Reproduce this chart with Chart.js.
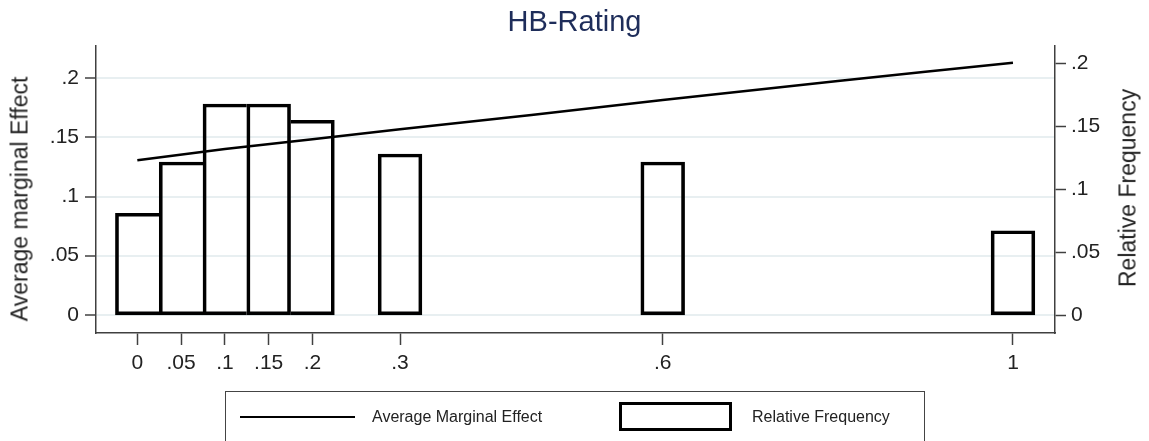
<!DOCTYPE html>
<html>
<head>
<meta charset="utf-8">
<script src="https://cdn.jsdelivr.net/npm/chart.js@4/dist/chart.umd.min.js"></script>
<style>
  html, body { margin: 0; padding: 0; background: #fff; }
  #wrap { position: relative; width: 1149px; height: 441px; overflow: hidden; font-family: "Liberation Sans", Arial, sans-serif; }
  canvas { position: absolute; left: 0; top: 0; }
  .ytitle { position: absolute; white-space: nowrap; font-size: 23px; line-height: 1; color: #222;
            transform: translate(-50%, -50%) rotate(-90deg); }
  #legend { position: absolute; left: 225px; top: 391px; width: 700px; height: 70px; border: 1.5px solid #444; box-sizing: border-box; }
  .lg { position: absolute; }
  .lgtext { position: absolute; font-size: 16px; line-height: 1; color: #222; white-space: nowrap; transform: translateY(-50%); }
</style>
</head>
<body>
<div id="wrap">
  <canvas id="c" width="1149" height="441"></canvas>
  <div class="ytitle" style="left:19.5px; top:198.5px;">Average marginal Effect</div>
  <div class="ytitle" style="left:1128px; top:187.5px;">Relative Frequency</div>
  <div id="legend"></div>
  <div class="lg" style="left:240px; top:415.5px; width:115px; height:2.5px; background:#000;"></div>
  <div class="lgtext" style="left:372px; top:417px;">Average Marginal Effect</div>
  <div class="lg" style="left:619px; top:402px; width:113px; height:29px; border:3px solid #000; box-sizing:border-box;"></div>
  <div class="lgtext" style="left:752px; top:417px;">Relative Frequency</div>
</div>
<script>
// ---- data ----
const titleText = "HB-Rating";
const xTicks = [0, 0.05, 0.1, 0.15, 0.2, 0.3, 0.6, 1];
const yLeftTicks = [0, 0.05, 0.1, 0.15, 0.2];
const yRightTicks = [0, 0.05, 0.1, 0.15, 0.2];

const freqX = [0, 0.05, 0.1, 0.15, 0.2, 0.3, 0.6, 1];
const freqY = [0.081, 0.1217, 0.1677, 0.1677, 0.1548, 0.128, 0.1217, 0.0671];

const ameX = [0, 0.1, 0.2, 0.3, 0.45, 0.6, 0.8, 0.9, 1];
const ameY = [0.1307, 0.1402, 0.1484, 0.1569, 0.169, 0.1817, 0.1978, 0.2055, 0.2132];

const binWidth = 0.05;
// ---------------------------------------

const FONT = "'Liberation Sans', Arial, sans-serif";
const fmt = v => {
  if (v === 0) return "0";
  if (v === 1) return "1";
  return String(+v.toFixed(2)).replace(/^0\./, ".");
};
const setTicks = arr => scale => { scale.ticks = arr.map(v => ({ value: v })); };

const barData = freqX.map((x, i) => ({ x, y: freqY[i] }));
const lineData = ameX.map((x, i) => ({ x, y: ameY[i] }));

const isAdj = (a, b) => a !== undefined && b !== undefined && Math.abs(b - a - binWidth) < 1e-9;

const AXIS = '#404040';
const GRID = '#e8eff1';

new Chart(document.getElementById('c'), {
  data: {
    datasets: [
      {
        type: 'line',
        label: 'Average Marginal Effect',
        data: lineData,
        yAxisID: 'y',
        borderColor: '#000',
        borderWidth: 2.5,
        pointRadius: 0,
        tension: 0,
        fill: false,
        order: 0
      },
      {
        type: 'bar',
        label: 'Relative Frequency',
        data: barData,
        yAxisID: 'y1',
        backgroundColor: 'rgba(255,255,255,0)',
        borderColor: '#000',
        borderSkipped: false,
        borderWidth: ctx => {
          const i = ctx.dataIndex;
          // a shared edge between neighbouring bins is drawn once, by the taller bar
          let left = 3, right = 3;
          if (isAdj(freqX[i - 1], freqX[i]) && freqY[i - 1] > freqY[i]) left = 0;
          if (isAdj(freqX[i], freqX[i + 1]) && freqY[i + 1] >= freqY[i]) right = 0;
          return { top: 3, bottom: 3, left, right };
        },
        barPercentage: 1,
        categoryPercentage: 1,
        grouped: false,
        order: 1
      }
    ]
  },
  options: {
    responsive: false,
    animation: false,
    events: [],
    layout: { padding: 0 },
    plugins: {
      legend: { display: false },
      tooltip: { enabled: false },
      title: {
        display: true,
        text: titleText,
        color: '#1e2d5a',
        font: { family: FONT, size: 29, weight: 'normal' },
        padding: { top: 6, bottom: 5.2 }
      }
    },
    scales: {
      x: {
        type: 'linear',
        min: -0.0472,
        max: 1.048,
        offset: false,
        afterBuildTicks: setTicks(xTicks),
        afterFit: s => { s.height = 108; },
        grid: { offset: false, drawOnChartArea: false, color: AXIS, tickColor: AXIS, tickWidth: 1.5, tickLength: 12 },
        border: { display: true, color: AXIS, width: 1.5 },
        ticks: { callback: v => fmt(v), color: '#222', font: { family: FONT, size: 21 }, padding: 6, maxRotation: 0, autoSkip: false }
      },
      y: {
        type: 'linear',
        position: 'left',
        min: -0.0154,
        max: 0.2273,
        afterBuildTicks: setTicks(yLeftTicks),
        afterFit: s => { s.width = 96; },
        grid: { drawOnChartArea: true, color: GRID, lineWidth: 2, tickColor: AXIS, tickWidth: 1.5, tickLength: 11 },
        border: { display: true, color: AXIS, width: 1.5 },
        ticks: { callback: v => fmt(v), color: '#222', font: { family: FONT, size: 21 }, padding: 6 }
      },
      y1: {
        type: 'linear',
        position: 'right',
        min: -0.0140,
        max: 0.2137,
        afterBuildTicks: setTicks(yRightTicks),
        afterFit: s => { s.width = 94; },
        grid: { drawOnChartArea: false, color: AXIS, tickColor: AXIS, tickWidth: 1.5, tickLength: 11 },
        border: { display: true, color: AXIS, width: 1.5 },
        ticks: { callback: v => fmt(v), color: '#222', font: { family: FONT, size: 21 }, padding: 5 }
      }
    }
  }
});
</script>
</body>
</html>
